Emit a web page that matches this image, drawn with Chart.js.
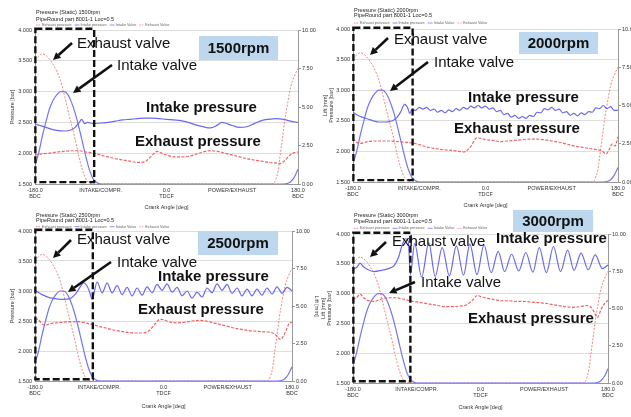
<!DOCTYPE html>
<html>
<head>
<meta charset="utf-8">
<script src="https://cdn.jsdelivr.net/npm/chart.js@4.4.1/dist/chart.umd.min.js"></script>
<style>
  html, body { margin: 0; padding: 0; background: #fff; }
  body { width: 631px; height: 417px; position: relative; overflow: hidden; }
  canvas { position: absolute; }
</style>
</head>
<body>
<canvas id="c1500" width="320" height="212" style="left:0;top:0"></canvas>
<canvas id="c2000" width="316" height="212" style="left:315px;top:0"></canvas>
<canvas id="c2500" width="320" height="212" style="left:0;top:205px"></canvas>
<canvas id="c3000" width="316" height="212" style="left:315px;top:205px"></canvas>
<script>
const FONT = "'Liberation Sans', Arial, sans-serif";

// crank angle axis
const tickAngles = [-180, -90, 0, 90, 180];
const tickTop = ["-180.0", "INTAKE/COMPR.", "0.0", "POWER/EXHAUST", "180.0"];
const tickBottom = ["BDC", "", "TDCF", "", "BDC"];

// highlighted valve window [deg from, deg to, bar top, bar bottom]
const valveWindow = [-179.5, -99, 4.02, 1.53];

// valve lift [mm] (same cam at every speed)
const exValveAngle = [-180, -175, -170, -165, -160, -155, -150, -145, -140, -135, -130, -125, -120, -115, -110, -105, -100,
  140, 145, 148, 150, 153, 156, 159, 162, 166, 170, 175, 180];
const exValveLift = [8.05, 8.3, 8.45, 8.35, 8.1, 7.75, 7.3, 6.7, 5.8, 4.8, 3.85, 2.9, 1.8, 0.9, 0.3, 0.05, 0,
  0, 0, 0.1, 0.35, 0.9, 2.0, 3.05, 4.15, 5.3, 6.3, 7.0, 7.5];
const inValveAngle = [-180, -175, -170, -165, -160, -155, -150, -145, -140, -135, -130, -125, -120, -115, -110, -105, -100, -95, -90,
  160, 165, 170, 175, 180];
const inValveLift = [1.2, 2.0, 3.1, 4.05, 4.9, 5.45, 5.8, 6.0, 6.0, 5.8, 5.3, 4.6, 3.7, 2.7, 1.7, 0.85, 0.3, 0.08, 0,
  0, 0.03, 0.15, 0.45, 0.95];

// 1500rpm pressures [bar]
const in1500Angle = [-180, -170, -160, -150, -140, -130, -125, -120, -116, -112, -108, -100, -90, -80, -70, -60, -50, -40, -30, -20, -10,
  0, 10, 20, 30, 40, 50, 60, 70, 76, 80, 90, 100, 110, 120, 130, 140, 150, 160, 170, 180];
const in1500Bar = [2.47, 2.44, 2.40, 2.37, 2.36, 2.38, 2.42, 2.49, 2.55, 2.48, 2.50, 2.48, 2.49, 2.50, 2.52, 2.54, 2.55, 2.56, 2.57, 2.57, 2.56,
  2.55, 2.54, 2.53, 2.50, 2.46, 2.43, 2.41, 2.46, 2.50, 2.49, 2.45, 2.42, 2.43, 2.48, 2.53, 2.55, 2.56, 2.55, 2.52, 2.50];
const ex1500Angle = [-180, -170, -160, -150, -140, -130, -120, -110, -100, -90, -80, -70, -60, -50, -40, -30, -20, -13, -5,
  0, 10, 20, 30, 40, 50, 60, 70, 80, 90, 100, 110, 120, 130, 140, 150, 155, 160, 165, 170, 175, 180];
const ex1500Bar = [1.97, 1.99, 2.00, 2.02, 2.03, 2.04, 2.04, 2.02, 2.00, 1.97, 1.94, 1.91, 1.89, 1.87, 1.85, 1.86, 1.96, 2.03, 1.99,
  1.97, 1.94, 1.94, 1.95, 1.98, 2.02, 2.04, 2.03, 2.00, 1.97, 1.94, 1.91, 1.89, 1.87, 1.85, 1.84, 1.83, 1.86, 1.92, 1.98, 2.01, 2.02];

// 2000rpm pressures [bar]
const in2000Angle = [-180, -175, -170, -165, -160, -155, -150, -145, -140, -135, -130, -125, -120, -115, -110, -106, -103,
  -100, -95, -90, -85, -80, -75, -70, -65, -60, -55, -50, -45, -40, -35, -30, -25, -20, -15, -10, -5,
  0, 5, 10, 15, 20, 25, 30, 35, 40, 45, 50, 55, 60, 65, 70, 75, 80, 85, 90, 95,
  100, 105, 110, 115, 120, 125, 130, 135, 140, 145, 150, 155, 160, 165, 170, 175, 180];
const in2000Bar = [2.64, 2.60, 2.57, 2.55, 2.53, 2.51, 2.49, 2.48, 2.48, 2.48, 2.49, 2.51, 2.56, 2.65, 2.77, 2.72, 2.62,
  2.68, 2.67, 2.72, 2.69, 2.72, 2.67, 2.69, 2.64, 2.67, 2.63, 2.68, 2.65, 2.70, 2.67, 2.72, 2.69, 2.74, 2.71, 2.75, 2.71,
  2.74, 2.69, 2.71, 2.65, 2.67, 2.60, 2.62, 2.56, 2.59, 2.54, 2.57, 2.54, 2.59, 2.57, 2.64, 2.63, 2.70, 2.68, 2.72, 2.67,
  2.69, 2.63, 2.65, 2.59, 2.62, 2.58, 2.63, 2.60, 2.65, 2.64, 2.71, 2.70, 2.75, 2.70, 2.73, 2.67, 2.67];
const ex2000Angle = [-180, -175, -170, -160, -150, -140, -130, -120, -110, -100, -90, -80, -70, -60, -50, -40, -30, -20, -12, -5,
  0, 10, 20, 30, 40, 50, 60, 70, 80, 90, 100, 110, 120, 130, 140, 150, 158, 164, 168, 172, 176, 180];
const ex2000Bar = [2.21, 2.15, 2.13, 2.16, 2.17, 2.17, 2.17, 2.16, 2.15, 2.14, 2.11, 2.07, 2.05, 2.03, 2.02, 2.01, 1.99, 2.08, 2.22, 2.21,
  2.19, 2.18, 2.16, 2.17, 2.18, 2.19, 2.20, 2.20, 2.19, 2.17, 2.15, 2.12, 2.09, 2.07, 2.05, 2.03, 2.01, 1.96, 2.03, 2.12, 2.09, 2.24];

// 2500rpm pressures [bar]
const in2500Angle = [-180, -170, -160, -150, -140, -130, -122, -116, -112, -108, -104,
  -100, -93, -86, -79, -72, -65, -58, -51, -44, -37, -30, -23, -16, -9, -2, 5, 12, 19, 26, 33, 40,
  47, 54, 61, 68, 75, 82, 89, 96, 103, 110, 117, 124, 131, 138, 145, 152, 159, 166, 173, 180];
const in2500Bar = [3.01, 2.94, 2.89, 2.87, 2.86, 2.88, 2.97, 3.08, 3.14, 3.10, 3.00,
  2.86, 3.15, 2.97, 3.13, 2.97, 3.09, 2.94, 3.06, 2.92, 3.05, 2.93, 3.07, 2.97, 3.11, 3.01, 3.12, 2.98, 3.06, 2.92, 3.00, 2.88,
  2.98, 2.90, 3.05, 2.97, 3.12, 3.01, 3.11, 2.96, 3.05, 2.92, 3.03, 2.92, 3.03, 2.93, 3.05, 2.95, 3.07, 2.96, 3.06, 3.00];
const ex2500Angle = [-180, -175, -170, -165, -160, -150, -140, -130, -120, -110, -100, -90, -80, -70, -60, -50, -40, -30, -20, -12, -5,
  0, 10, 20, 30, 40, 50, 60, 70, 80, 90, 100, 110, 120, 130, 140, 150, 155, 160, 164, 168, 172, 176, 180];
const ex2500Bar = [2.54, 2.52, 2.45, 2.43, 2.45, 2.47, 2.48, 2.49, 2.49, 2.47, 2.44, 2.41, 2.38, 2.35, 2.33, 2.31, 2.30, 2.30, 2.34, 2.45, 2.53,
  2.52, 2.48, 2.47, 2.48, 2.50, 2.51, 2.50, 2.47, 2.44, 2.41, 2.38, 2.36, 2.34, 2.33, 2.32, 2.31, 2.29, 2.23, 2.19, 2.25, 2.35, 2.46, 2.48];

// 3000rpm pressures [bar]
const in3000Angle = [-180, -174, -170, -166, -160, -150, -140, -130, -122, -116, -111, -106, -102, -99,
  -93, -83, -73, -64, -54, -44, -34, -24, -15, -5, 5, 15, 25, 34, 44,
  54, 64, 74, 83, 93, 103, 113, 123, 132, 142, 152, 162, 172, 180];
const in3000Bar = [3.40, 3.45, 3.51, 3.46, 3.41, 3.37, 3.39, 3.42, 3.47, 3.60, 3.80, 3.92, 3.88, 3.32,
  3.84, 3.28, 3.85, 3.29, 3.77, 3.30, 3.80, 3.31, 3.83, 3.32, 3.82, 3.35, 3.71, 3.37, 3.66,
  3.38, 3.69, 3.36, 3.77, 3.35, 3.79, 3.37, 3.73, 3.39, 3.68, 3.40, 3.65, 3.42, 3.48];
const ex3000Angle = [-180, -175, -170, -165, -160, -150, -140, -130, -120, -110, -100, -90, -80, -70, -60, -50, -40, -30, -20, -12, -4,
  0, 10, 20, 30, 40, 50, 60, 70, 80, 90, 100, 110, 120, 130, 140, 150, 156, 160, 165, 170, 175, 180];
const ex3000Bar = [2.90, 2.93, 2.99, 2.93, 2.89, 2.87, 2.91, 2.93, 2.93, 2.91, 2.88, 2.86, 2.84, 2.82, 2.80, 2.78, 2.78, 2.79, 2.81, 2.88, 2.97,
  2.95, 2.92, 2.90, 2.88, 2.88, 2.87, 2.87, 2.86, 2.85, 2.84, 2.82, 2.80, 2.78, 2.77, 2.78, 2.80, 2.77, 2.70, 2.60, 2.73, 2.83, 2.89];

// panel layout: frame = chart area margins inside each canvas, notes = callout positions in canvas px
const panels = [
  { id: "c1500", rpm: 1500, inAngle: in1500Angle, inBar: in1500Bar, exAngle: ex1500Angle, exBar: ex1500Bar,
    frame: { top: 30, left: 35, right: 22, bottom: 28 }, yTitle: "Pressure [bar]", yTitlePad: 9, xTitlePad: 1.7, liftTitle: false,
    head: [-17.7, -11, -5],
    notes: { ev: [77, 47.7], evArrow: [72, 43, 53, 60], iv: [117, 70], ivArrow: [112, 65, 73, 93],
      ip: [146, 112.4], ep: [135, 145.7], rpmBox: [199, 36, 79, 24] } },
  { id: "c2000", rpm: 2000, inAngle: in2000Angle, inBar: in2000Bar, exAngle: ex2000Angle, exBar: ex2000Bar,
    frame: { top: 29, left: 38, right: 13, bottom: 30 }, yTitle: ["Lift [mm]", "Pressure [bar]"], yTitlePad: 6.7, xTitlePad: 3.7, liftTitle: false,
    head: [-19, -13.3, -6],
    notes: { ev: [79, 44], evArrow: [73, 38, 55, 55], iv: [119, 67.4], ivArrow: [113, 62, 75, 91],
      ip: [153, 102.4], ep: [139, 133], rpmBox: [204, 32, 79, 22] } },
  { id: "c2500", rpm: 2500, inAngle: in2500Angle, inBar: in2500Bar, exAngle: ex2500Angle, exBar: ex2500Bar,
    frame: { top: 26, left: 35, right: 28, bottom: 36 }, yTitle: "Pressure [bar]", yTitlePad: 9, xTitlePad: 7.7, liftTitle: true,
    head: [-16, -10.3, -4.3],
    notes: { ev: [77, 39], evArrow: [71, 35, 53, 53], iv: [117, 62.4], ivArrow: [111, 57, 68, 87],
      ip: [158, 75.7], ep: [138, 109], rpmBox: [198, 26, 80, 24] } },
  { id: "c3000", rpm: 3000, inAngle: in3000Angle, inBar: in3000Bar, exAngle: ex3000Angle, exBar: ex3000Bar,
    frame: { top: 29, left: 38, right: 23, bottom: 34 }, yTitle: ["Lift [mm]", "Pressure [bar]"], yTitlePad: 4.7, xTitlePad: 6.7, liftTitle: false,
    head: [-19, -12.3, -5.7],
    notes: { ev: [77, 40.7], evArrow: [71, 37, 55, 52], iv: [106, 82.4], ivArrow: [100, 77, 74, 88],
      ip: [181, 38], ep: [153, 118], rpmBox: [198, 5, 80, 22] } },
];

function zip(xs, ys) {
  return xs.map((x, i) => ({ x: x, y: ys[i] }));
}

function arrow(ctx, [x1, y1, x2, y2]) {
  const a = Math.atan2(y2 - y1, x2 - x1);
  const len = 7.5, half = 3.8;
  const bx = x2 - Math.cos(a) * len, by = y2 - Math.sin(a) * len;
  ctx.strokeStyle = "#111";
  ctx.fillStyle = "#111";
  ctx.lineWidth = 2.6;
  ctx.beginPath();
  ctx.moveTo(x1, y1);
  ctx.lineTo(bx, by);
  ctx.stroke();
  ctx.beginPath();
  ctx.moveTo(x2, y2);
  ctx.lineTo(bx + Math.sin(a) * half, by - Math.cos(a) * half);
  ctx.lineTo(bx - Math.sin(a) * half, by + Math.cos(a) * half);
  ctx.closePath();
  ctx.fill();
}

// header, tiny legend, valve window and the big callouts
function callouts(p) {
  return {
    id: "callouts",
    afterDraw(chart) {
      const { ctx, chartArea: area } = chart;
      const x = chart.scales.x, y = chart.scales.y;
      ctx.save();

      ctx.textAlign = "left";
      ctx.textBaseline = "middle";
      ctx.fillStyle = "#222";
      ctx.font = `5.5px ${FONT}`;
      ctx.fillText(`Pressure (Static) ${p.rpm}rpm`, area.left + 1, area.top + p.head[0]);
      ctx.fillText("PipeRound part 8001-1 Loc=0.5", area.left + 1, area.top + p.head[1]);

      ctx.font = `3.8px ${FONT}`;
      let lx = area.left + 1;
      const ly = area.top + p.head[2];
      chart.data.datasets.forEach((ds) => {
        ctx.strokeStyle = ds.borderColor;
        ctx.lineWidth = 0.8;
        ctx.setLineDash(ds.borderDash ? [1.5, 1] : []);
        ctx.beginPath();
        ctx.moveTo(lx, ly);
        ctx.lineTo(lx + 5, ly);
        ctx.stroke();
        ctx.fillStyle = "#666";
        ctx.fillText(ds.label, lx + 6, ly);
        lx += 6 + ctx.measureText(ds.label).width + 3;
      });

      const wx1 = x.getPixelForValue(valveWindow[0]);
      const wx2 = x.getPixelForValue(valveWindow[1]);
      const wy1 = y.getPixelForValue(valveWindow[2]);
      const wy2 = y.getPixelForValue(valveWindow[3]);
      ctx.strokeStyle = "#111";
      ctx.lineWidth = 2.4;
      ctx.setLineDash([7, 3]);
      ctx.strokeRect(wx1, wy1, wx2 - wx1, wy2 - wy1);
      ctx.setLineDash([]);

      const [rx, ry, rw, rh] = p.notes.rpmBox;
      ctx.fillStyle = "#bdd7ee";
      ctx.fillRect(rx, ry, rw, rh);
      ctx.fillStyle = "#111";
      ctx.font = `bold 15px ${FONT}`;
      ctx.textAlign = "center";
      ctx.fillText(`${p.rpm}rpm`, rx + rw / 2, ry + rh / 2 + 1);

      ctx.textAlign = "left";
      ctx.textBaseline = "alphabetic";
      ctx.font = `15px ${FONT}`;
      ctx.fillText("Exhaust valve", p.notes.ev[0], p.notes.ev[1]);
      ctx.fillText("Intake valve", p.notes.iv[0], p.notes.iv[1]);
      ctx.font = `bold 15px ${FONT}`;
      ctx.fillText("Intake pressure", p.notes.ip[0], p.notes.ip[1]);
      ctx.fillText("Exhaust pressure", p.notes.ep[0], p.notes.ep[1]);

      arrow(ctx, p.notes.evArrow);
      arrow(ctx, p.notes.ivArrow);
      ctx.restore();
    },
  };
}

const tickFont = { size: 5.5, family: FONT, lineHeight: 1.2 };

panels.forEach((p) => {
  new Chart(document.getElementById(p.id), {
    type: "line",
    data: {
      datasets: [
        { label: "Exhaust pressure", data: zip(p.exAngle, p.exBar), yAxisID: "y",
          borderColor: "#ee6464", borderWidth: 1.2, borderDash: [3, 1.5] },
        { label: "Intake pressure", data: zip(p.inAngle, p.inBar), yAxisID: "y",
          borderColor: "#6a6af0", borderWidth: 1.2 },
        { label: "Intake Valve", data: zip(inValveAngle, inValveLift), yAxisID: "y2",
          borderColor: "#7676f2", borderWidth: 1.2 },
        { label: "Exhaust Valve", data: zip(exValveAngle, exValveLift), yAxisID: "y2",
          borderColor: "#f08282", borderWidth: 1, borderDash: [2, 1.5] },
      ],
    },
    options: {
      responsive: false,
      animation: false,
      events: [],
      layout: { padding: { top: p.frame.top, left: 0, right: 0, bottom: 0 } },
      elements: {
        point: { radius: 0 },
        line: { cubicInterpolationMode: "monotone", fill: false },
      },
      plugins: { legend: { display: false }, title: { display: false }, tooltip: { enabled: false } },
      scales: {
        x: {
          type: "linear",
          min: -180,
          max: 180,
          afterBuildTicks: (axis) => { axis.ticks = tickAngles.map((v) => ({ value: v })); },
          afterFit: (s) => { s.height = p.frame.bottom; },
          ticks: {
            autoSkip: false,
            maxRotation: 0,
            padding: 3,
            color: "#333",
            font: tickFont,
            callback: (v) => {
              const i = tickAngles.indexOf(v);
              return tickBottom[i] ? [tickTop[i], tickBottom[i]] : tickTop[i];
            },
          },
          grid: { display: false, drawTicks: false },
          border: { color: "#999", width: 1 },
          title: { display: true, text: "Crank Angle [deg]", color: "#333", font: tickFont,
            padding: { top: 0, bottom: p.xTitlePad } },
        },
        y: {
          position: "left",
          min: 1.5,
          max: 4,
          afterFit: (s) => { s.width = p.frame.left; },
          ticks: { stepSize: 0.5, padding: 3, color: "#333", font: tickFont, callback: (v) => v.toFixed(3) },
          grid: { color: "#d6d6d6", lineWidth: 0.8, drawTicks: false },
          border: { color: "#999", width: 1 },
          title: { display: true, text: p.yTitle, color: "#333", font: tickFont,
            padding: { top: p.yTitlePad, bottom: 0 } },
        },
        y2: {
          position: "right",
          min: 0,
          max: 10,
          afterFit: (s) => { s.width = p.frame.right; },
          ticks: { stepSize: 2.5, padding: 1, color: "#333", font: tickFont, callback: (v) => v.toFixed(2) },
          grid: { drawOnChartArea: false, drawTicks: true, tickLength: 3, color: "#999" },
          border: { color: "#999", width: 1 },
          title: { display: p.liftTitle, text: "Lift [mm]", color: "#333", font: tickFont,
            padding: { top: 0, bottom: 0 } },
        },
      },
    },
    plugins: [callouts(p)],
  });
});
</script>
</body>
</html>
